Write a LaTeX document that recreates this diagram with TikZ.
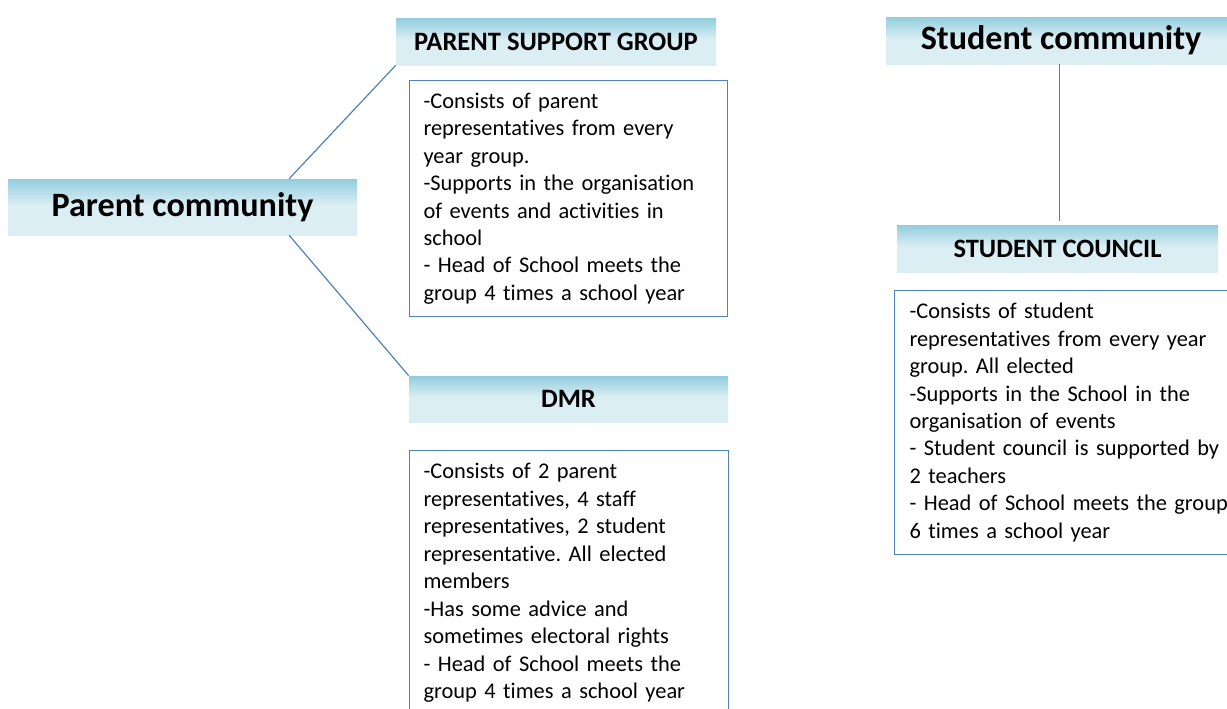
\documentclass[tikz,border=0pt]{standalone}
\usepackage{fontspec}
\setmainfont{Carlito}[Ligatures=NoCommon]
\usetikzlibrary{positioning}
\definecolor{headtop}{RGB}{146,205,221}
\definecolor{headbot}{RGB}{219,238,244}
\definecolor{edge}{RGB}{79,129,189}
\pgfdeclareverticalshading{headshade}{100bp}{color(0bp)=(headbot); color(25bp)=(headbot); color(52bp)=(headbot); color(75bp)=(headtop); color(100bp)=(headtop)}
\newdimen\px \px=0.75pt
\tikzstyle{head} = [rectangle, shading=headshade, inner sep=0pt, font=\bfseries\fontsize{19.9}{24}\selectfont]
\tikzstyle{bighead} = [head, font=\bfseries\fontsize{25.6}{30}\selectfont]
\tikzstyle{body} = [rectangle, draw=edge, line width=0.8pt, anchor=north west, align=left, inner xsep=14\px, inner ysep=0pt, font=\frenchspacing\fontsize{16.8}{20.6}\selectfont]
\tikzstyle{line} = [draw=edge, line width=0.9pt]

\begin{document}
\begin{tikzpicture}[x=0.75pt, y=-0.75pt]
			\useasboundingbox (0,0) rectangle (1227,708);

			\node [bighead, minimum width=349\px, minimum height=56\px] (parent) at (182.5,207) {Parent community};
			\node [head, minimum width=320\px, minimum height=47\px] (psg) at (556,41.5) {PARENT SUPPORT GROUP};
			\node [head, minimum width=319\px, minimum height=46\px] (dmr) at (568.5,399) {DMR};
			\node [bighead, minimum width=350\px, minimum height=47\px] (scomm) at (1061,40.5) {Student community};
			\node [head, minimum width=321\px, minimum height=47\px] (scouncil) at (1057.5,248.5) {STUDENT COUNCIL};

			\node [body, text width=290\px, minimum height=236\px] (psgtext) at (409,80) {-Consists of parent\\ representatives from every\\ year group.\\ -Supports in the organisation\\ of events and activities in\\ school\\ - Head of School meets the\\ group 4 times a school year};
			\node [body, text width=291\px, minimum height=265\px] (dmrtext) at (409,450) {-Consists of 2 parent\\ representatives, 4 staff\\ representatives, 2 student\\ representative. All elected\\ members\\ -Has some advice and\\ sometimes electoral rights\\ - Head of School meets the\\ group 4 times a school year};
			\node [body, inner xsep=15\px, text width=340\px, minimum height=264\px] (sctext) at (894,290) {-Consists of student\\ representatives from every year\\ group. All elected\\ -Supports in the School in the\\ organisation of events\\ - Student council is supported by\\ 2 teachers\\ - Head of School meets the group\\ 6 times a school year};

			\path [line] ([xshift=80pt]parent.north) -- (psg.south west);
			\path [line] ([xshift=80pt]parent.south) -- (dmr.north west);
			\path [line, shorten >=3pt] ([xshift=-1pt]scomm.south) -- ([xshift=-1pt]scomm.south |- scouncil.north);
		\end{tikzpicture}
\end{document}
